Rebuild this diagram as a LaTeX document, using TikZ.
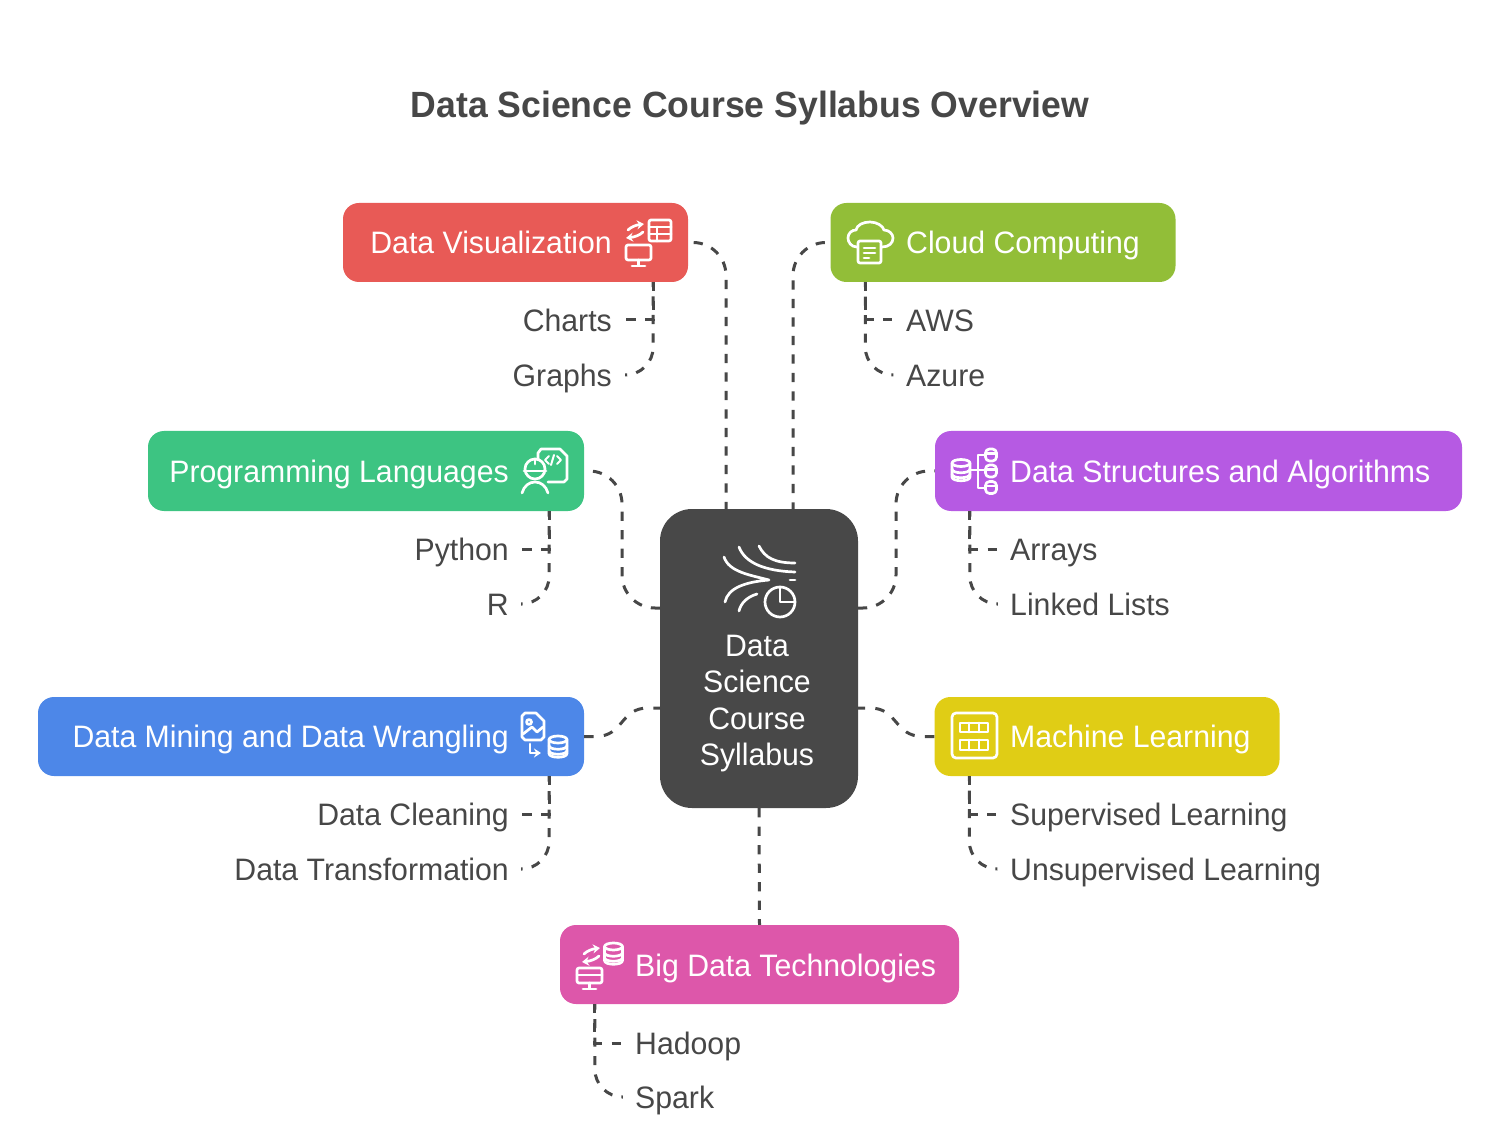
\documentclass[tikz,border=0pt]{standalone}
\usepackage{fontspec}
\setmainfont[FakeStretch=0.975]{Liberation Sans}
\usetikzlibrary{arrows.meta}

\definecolor{inkgray}{HTML}{474747}
\definecolor{hubgray}{HTML}{484848}
\definecolor{vizred}{HTML}{E85A56}
\definecolor{cloudgreen}{HTML}{92BE38}
\definecolor{langgreen}{HTML}{3DC482}
\definecolor{algopurple}{HTML}{B65AE3}
\definecolor{minerblue}{HTML}{4D87E8}
\definecolor{mlyellow}{HTML}{E0CD15}
\definecolor{bigpink}{HTML}{DD57AA}

\tikzset{
	topic/.style = {rounded corners=16pt, minimum height=79, minimum width=345, inner sep=0},
	topictext/.style = {text=white, font=\fontsize{31}{37}\selectfont, inner sep=0, text height=25, text depth=2},
	leaf/.style = {text=inkgray, font=\fontsize{31}{37}\selectfont, inner xsep=13, inner ysep=0, text height=25, text depth=2},
	link/.style = {draw=inkgray, line width=3, dash pattern=on 9.2 off 9.3},
	hublink/.style = {link, rounded corners=33pt},
	slink/.style = {draw=inkgray, line width=3, dash pattern=on 9.5 off 10.2},
	farlink/.style = {link, dash phase=7, rounded corners=28pt},
	glyph/.style = {draw=white, line width=2.7, line cap=round, line join=round},
	pics/cyl/.style = {code = {
		\draw[glyph] (0,-7) ellipse [x radius=9, y radius=3.5];
		\draw[glyph] (-9,-7) -- (-9,7) .. controls (-9,12) and (9,12) .. (9,7) -- (9,-7);
		\draw[glyph] (-9,-1) .. controls (-9,4) and (9,4) .. (9,-1);
		\draw[glyph] (-9,4) .. controls (-9,9) and (9,9) .. (9,4);
	}},
	pics/minicyl/.style = {code = {
		\draw[glyph, rounded corners=4pt] (-5.5,-6) rectangle (5.5,6);
		\draw[glyph] (-5.5,-1.5) -- (5.5,-1.5);
	}},
	pics/monitor/.style = {code = {
		\draw[glyph, rounded corners=2pt] (0,0) rectangle (25,15);
		\draw[glyph] (12.5,15) -- (12.5,20) (6,21) -- (19,21);
	}},
	pics/swaparrows/.style = {code = {
		\draw[glyph, -{Stealth[length=7, width=9]}] (-7,-1) .. controls (-4,-4) and (1,-6) .. (9,-7);
		\draw[glyph, -{Stealth[length=7, width=9]}] (8,1) .. controls (5,4) and (0,6) .. (-9,7);
	}}
}

\begin{document}
\begin{tikzpicture}[x=1pt, y=-1pt]
	\useasboundingbox (0,0) rectangle (1500,1139);

	\node[text=inkgray, font=\fontsize{36.5}{42}\selectfont\bfseries] (title) at (750,108) {Data Science Course Syllabus Overview};

	% Hub
	\node[fill=hubgray, rounded corners=32pt, minimum width=198, minimum height=299, inner sep=0] (hub) at (759,658.5) {};
	\node[text=white, align=center, inner sep=0, font=\fontsize{31}{36.5}\selectfont] (hubtext) at (757,703.5) {Data\\Science\\Course\\Syllabus};
	\coordinate (hubdv) at (726,509);
	\coordinate (hubcc) at (793,509);
	\coordinate (hubpl) at (660,608);
	\coordinate (hubds) at (858,608);
	\coordinate (hubdm) at (660,708);
	\coordinate (hubml) at (858,708);

	% Topics
	\node[topic, fill=vizred] (dv) at (515.5,242.5) {};
	\node[topic, fill=cloudgreen] (cc) at (1003,242.5) {};
	\node[topic, fill=langgreen, minimum width=436, minimum height=80] (pl) at (366,471) {};
	\node[topic, fill=algopurple, minimum width=527, minimum height=80] (ds) at (1198.5,471) {};
	\node[topic, fill=minerblue, minimum width=546] (dm) at (311,736.5) {};
	\node[topic, fill=mlyellow] (ml) at (1107,736.5) {};
	\node[topic, fill=bigpink, minimum width=399] (bd) at (759.5,964.5) {};

	\node[topictext, anchor=east] (dvtext) at (612,242) {Data Visualization};
	\node[topictext, anchor=west] (cctext) at (906,242) {Cloud Computing};
	\node[topictext, anchor=east] (pltext) at (509,471) {Programming Languages};
	\node[topictext, anchor=west] (dstext) at (1010,471) {Data Structures and Algorithms};
	\node[topictext, anchor=east] (dmtext) at (509,736) {Data Mining and Data Wrangling};
	\node[topictext, anchor=west] (mltext) at (1010,736) {Machine Learning};
	\node[topictext, anchor=west] (bdtext) at (635,965) {Big Data Technologies};

	% Leaves
	\node[leaf, anchor=east] (charts) at (625,320) {Charts};
	\node[leaf, anchor=east] (graphs) at (625,375) {Graphs};
	\node[leaf, anchor=west] (aws) at (893,320) {AWS};
	\node[leaf, anchor=west] (azure) at (893,375) {Azure};
	\node[leaf, anchor=east] (python) at (522,549) {Python};
	\node[leaf, anchor=east] (rlang) at (522,604) {R};
	\node[leaf, anchor=west] (arrays) at (997,549) {Arrays};
	\node[leaf, anchor=west] (linked) at (997,604) {Linked Lists};
	\node[leaf, anchor=east] (cleaning) at (522,814) {Data Cleaning};
	\node[leaf, anchor=east] (transform) at (522,869) {Data Transformation};
	\node[leaf, anchor=west] (supervised) at (997,814) {Supervised Learning};
	\node[leaf, anchor=west] (unsupervised) at (997,869) {Unsupervised Learning};
	\node[leaf, anchor=west] (hadoop) at (622,1043) {Hadoop};
	\node[leaf, anchor=west] (spark) at (622,1097) {Spark};

	% Links to hub
	\draw[hublink, dash phase=13] (dv.east) -| (hubdv);
	\draw[hublink, dash phase=13] (cc.west) -| (hubcc);
	\draw[hublink] (hubpl) -- ++(-38,0) |- (pl.east);
	\draw[hublink] (hubds) -- ++(38,0) |- (ds.west);
	\draw[slink] (dm.east) -- ++(12,0) .. controls (624,736) and (620,708) .. (648,708) -- (hubdm);
	\draw[slink] (ml.west) -- ++(-12,0) .. controls (894,736) and (898,708) .. (870,708) -- (hubml);
	\draw[link] (hub.south) -- (bd.north);

	% Links to leaves
	\foreach \topic/\near/\far in {dv/charts/graphs, pl/python/rlang, dm/cleaning/transform} {
		\draw[link] ([xshift=-35]\topic.south east) |- (\near.east);
		\draw[farlink] (\far.east) -| ([xshift=-35]\topic.south east);
	}
	\foreach \topic/\near/\far in {cc/aws/azure, ds/arrays/linked, ml/supervised/unsupervised, bd/hadoop/spark} {
		\draw[link] ([xshift=35]\topic.south west) |- (\near.west);
		\draw[farlink] (\far.west) -| ([xshift=35]\topic.south west);
	}

	% Hub icon
	\draw[glyph] (759,546) .. controls (765,558) and (775,563) .. (795,563);
	\draw[glyph] (739,547) .. controls (745,563) and (765,571) .. (795,572);
	\draw[glyph] (790,580) -- (795,580);
	\draw[glyph] (724,557) .. controls (729,572) and (750,575) .. (769,580) .. controls (745,582) and (728,588) .. (725,602);
	\draw[glyph] (757,594) .. controls (747,597) and (741,603) .. (739,611);
	\draw[glyph] (780,602) circle [radius=15];
	\draw[glyph] (780,588) -- (780,602) -- (794,602);

	% Data Visualization icon
	\draw[glyph, rounded corners=2pt] (649,220) rectangle (671,241);
	\draw[glyph] (649,227) -- (671,227) (649,234) -- (671,234) (657,227) -- (657,241);
	\pic at (635,231) {swaparrows};
	\pic at (626,245) {monitor};

	% Cloud Computing icon
	\draw[glyph] (857,247) .. controls (851,247) and (848,242) .. (848,238) .. controls (848,233) and (852,230) .. (856,230) .. controls (857,225) and (863,222) .. (870,222) .. controls (877,222) and (883,226) .. (884,230) .. controls (889,230) and (893,234) .. (893,238) .. controls (893,243) and (889,247) .. (882,247);
	\draw[glyph, rounded corners=2pt, fill=cloudgreen] (858,241) rectangle (881,263);
	\draw[glyph] (864,248) -- (875,248) (864,253) -- (875,253) (864,258) -- (869,258);

	% Programming Languages icon
	\draw[glyph] (538,459) -- (538,453) -- (541,449) -- (560,449) -- (567,456) -- (567,479) -- (564,482) -- (548,482);
	\draw[glyph, line width=2] (549,456) -- (545,460) -- (549,464) (554,455) -- (551,465) (557,456) -- (561,460) -- (557,464);
	\draw[glyph] (535,469) circle [radius=10];
	\draw[glyph] (524,471) -- (546,471) (535,459) -- (535,464);
	\draw[glyph] (522,493) .. controls (524,486) and (529,482) .. (535,482) .. controls (541,482) and (546,486) .. (548,493);

	% Data Structures icon
	\pic at (961,470) {cyl};
	\draw[glyph] (970,470) -- (985,470);
	\draw[glyph] (985,455) -- (978,455) -- (978,488) -- (985,488);
	\pic at (991,455) {minicyl};
	\pic at (991,471) {minicyl};
	\pic at (991,487.5) {minicyl};

	% Data Mining icon
	\draw[glyph] (536,713) -- (525,713) -- (522,716) -- (522,737) -- (525,740) -- (541,740) -- (544,737) -- (544,721) -- cycle;
	\draw[glyph] (529,722) circle [radius=2.5];
	\draw[glyph] (523,734) -- (532,727) -- (537,732) -- (543,727);
	\draw[glyph, -{Stealth[length=7, width=9]}] (530,744) -- (530,753) -- (541,753);
	\pic at (558,746.5) {cyl};

	% Machine Learning icon
	\draw[glyph, rounded corners=4pt] (952,713) rectangle (997,758);
	\draw[glyph] (960,723) rectangle (988,732);
	\draw[glyph] (960,740) rectangle (988,750);
	\draw[glyph] (969,723) -- (969,732) (979,723) -- (979,732) (969,740) -- (969,750) (979,740) -- (979,750);

	% Big Data icon
	\pic at (613.5,953.5) {cyl};
	\pic at (591,955) {swaparrows};
	\pic at (577,968) {monitor};
	\draw[glyph] (577,975) -- (602,975);
\end{tikzpicture}
\end{document}
